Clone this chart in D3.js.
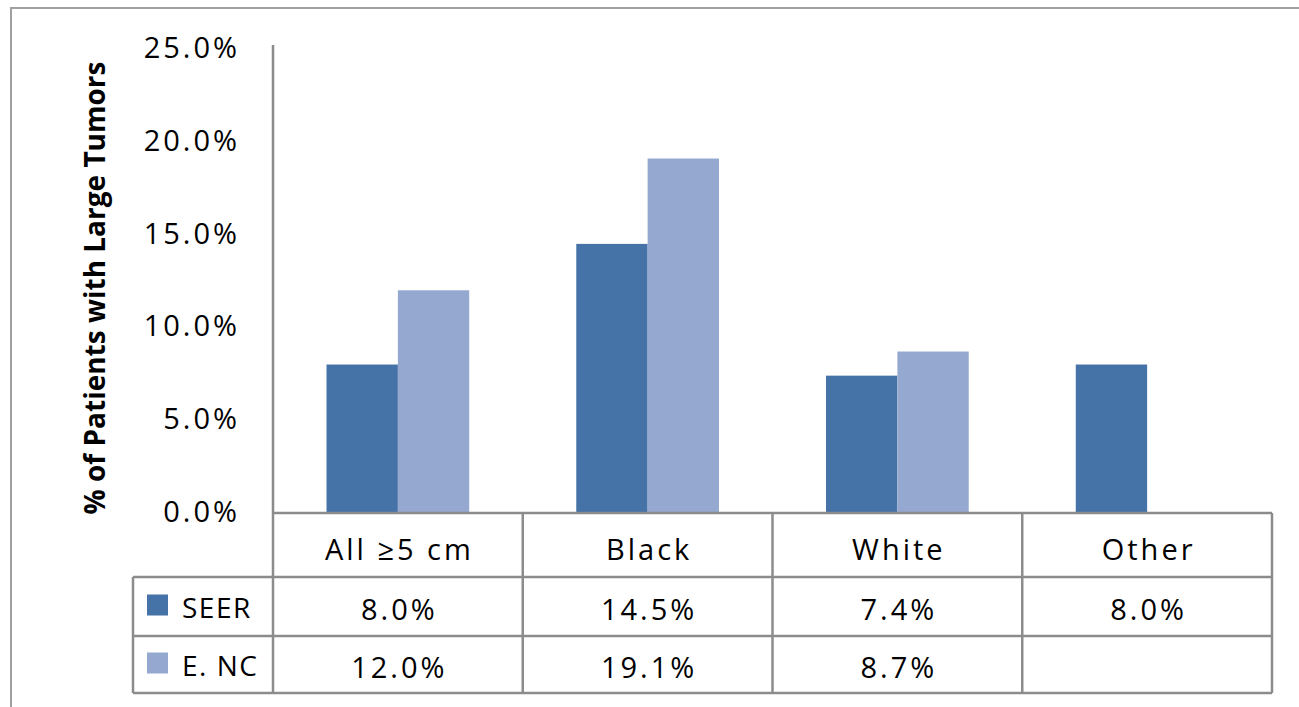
<!DOCTYPE html>
<html>
<head>
<meta charset="utf-8">
<script src="https://cdn.jsdelivr.net/npm/d3@7"></script>
<style>
  body { margin: 0; background: #fff; }
  svg text { font-family: "Open Sans", "Noto Sans", sans-serif; fill: #000; }
</style>
</head>
<body>
<div id="chart"></div>
<script>
// chart data
const categories = ['All \u22655 cm', 'Black', 'White', 'Other'];
const seriesNames = ['SEER', 'E. NC'];
const seerValues = [0.080, 0.145, 0.074, 0.080];
const encValues = [0.120, 0.191, 0.087, null];
const yTicks = [0, 0.05, 0.10, 0.15, 0.20, 0.25];
const yTitle = '% of Patients with Large Tumors';

const colors = ['#4572a7', '#95a9d0'];
const lineColor = '#8c8c8c';

const W = 1299, H = 707;
const plotLeft = 273, plotRight = 1272, plotTop = 49, plotBottom = 513;
const tableLeft = 133;
const rowLines = [513, 577, 636, 693]; // header, seer, enc row boundaries
const rowBase = [560, 620, 678];       // text baselines per row

const svg = d3.select('#chart').append('svg')
    .attr('width', W).attr('height', H);

// outer chart border (runs off the picture to the right/bottom)
svg.append('rect')
    .attr('x', 11).attr('y', 8)
    .attr('width', W + 10).attr('height', H + 10)
    .attr('fill', 'none')
    .attr('stroke', '#a0a0a0').attr('stroke-width', 2);

const x0 = d3.scaleBand().domain(categories).range([plotLeft, plotRight]).paddingInner(0).paddingOuter(0);
const x1 = d3.scaleBand().domain(seriesNames).range([0, x0.bandwidth()]).paddingInner(0).paddingOuter(0.75);
const y = d3.scaleLinear().domain([0, 0.25]).range([plotBottom, plotTop]);

const series = [seerValues, encValues];

// bars
series.forEach(function(vals, si) {
    svg.append('g').selectAll('rect')
        .data(categories.map((c, i) => ({cat: c, v: vals[i]})).filter(d => d.v != null))
        .join('rect')
        .attr('x', d => x0(d.cat) + x1(seriesNames[si]))
        .attr('y', d => y(d.v))
        .attr('width', x1.bandwidth())
        .attr('height', d => y(0) - y(d.v))
        .attr('fill', colors[si]);
});

// y axis
const yAxis = svg.append('g')
    .attr('transform', 'translate(' + plotLeft + ',0)')
    .call(d3.axisLeft(y).tickValues(yTicks).tickFormat(d3.format('.1%')).tickSize(0).tickPadding(33));
yAxis.select('.domain').attr('stroke', lineColor).attr('stroke-width', 2.5)
    .attr('d', 'M0,' + plotBottom + 'V45');
yAxis.selectAll('text')
    .attr('font-size', 29).attr('letter-spacing', 3)
    .style('font-family', '"Open Sans", sans-serif')
    .attr('dy', 8.5);

// y title
svg.append('text')
    .attr('transform', 'translate(105,288) rotate(-90)')
    .attr('text-anchor', 'middle')
    .attr('font-size', 28).attr('font-weight', 'bold')
    .text(yTitle);

// data table lines
const tbl = svg.append('g').attr('stroke', lineColor).attr('stroke-width', 2.5).attr('fill', 'none');
tbl.append('line').attr('x1', plotLeft).attr('x2', plotRight).attr('y1', rowLines[0]).attr('y2', rowLines[0]);
tbl.append('line').attr('x1', tableLeft).attr('x2', plotRight).attr('y1', rowLines[1]).attr('y2', rowLines[1]);
tbl.append('line').attr('x1', tableLeft).attr('x2', plotRight).attr('y1', rowLines[2]).attr('y2', rowLines[2]);
tbl.append('line').attr('x1', tableLeft).attr('x2', plotRight).attr('y1', rowLines[3]).attr('y2', rowLines[3]);
tbl.append('line').attr('x1', tableLeft).attr('x2', tableLeft).attr('y1', rowLines[1]).attr('y2', rowLines[3]);
categories.forEach(function(c) {
    tbl.append('line').attr('x1', x0(c) + x0.bandwidth()).attr('x2', x0(c) + x0.bandwidth())
        .attr('y1', rowLines[0]).attr('y2', rowLines[3]);
});
tbl.append('line').attr('x1', plotLeft).attr('x2', plotLeft).attr('y1', rowLines[0]).attr('y2', rowLines[3]);

// header row
svg.append('g').selectAll('text')
    .data(categories)
    .join('text')
    .attr('x', d => x0(d) + x0.bandwidth() / 2 + 1.5)
    .attr('y', rowBase[0])
    .attr('text-anchor', 'middle')
    .attr('font-size', 29).attr('letter-spacing', 3)
    .text(d => d);

// value rows
const fmt = d3.format('.1%');
series.forEach(function(vals, si) {
    const cy = (rowLines[si + 1] + rowLines[si + 2]) / 2;
    svg.append('rect')
        .attr('x', 147).attr('y', cy - 12)
        .attr('width', 21).attr('height', 21)
        .attr('fill', colors[si]);
    svg.append('text')
        .attr('x', 182).attr('y', rowBase[si + 1] - 2)
        .attr('font-size', 28).attr('letter-spacing', 1.5)
        .text(seriesNames[si]);
    svg.append('g').selectAll('text')
        .data(categories.map((c, i) => ({cat: c, v: vals[i]})).filter(d => d.v != null))
        .join('text')
        .attr('x', d => x0(d.cat) + x0.bandwidth() / 2 + 1.5)
        .attr('y', rowBase[si + 1])
        .attr('text-anchor', 'middle')
        .attr('font-size', 29).attr('letter-spacing', 3)
        .text(d => fmt(d.v));
});
</script>
</body>
</html>
